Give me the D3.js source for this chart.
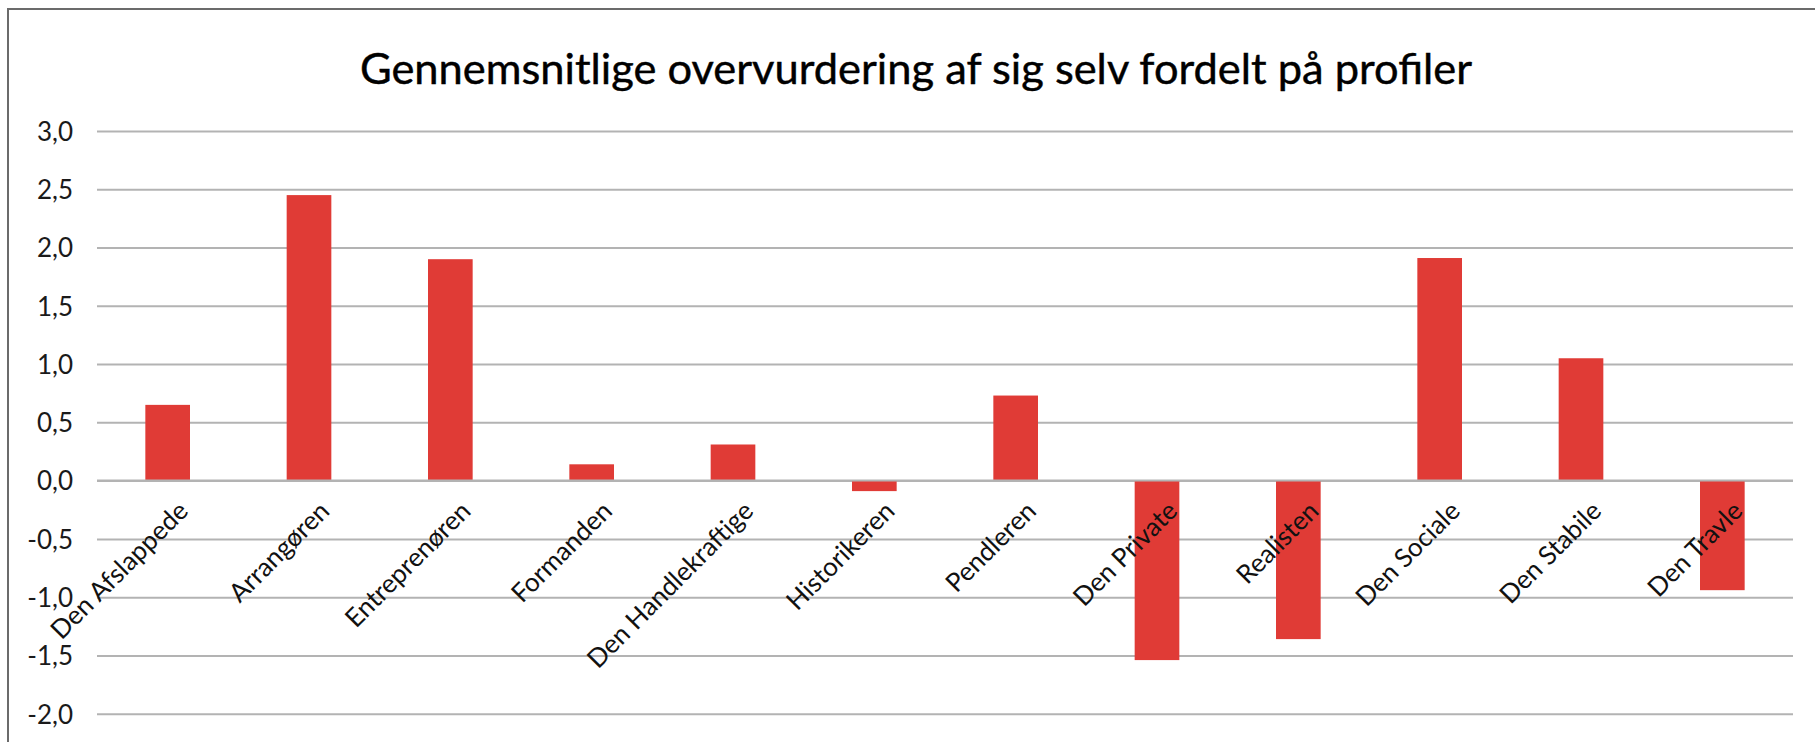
<!DOCTYPE html>
<html>
<head>
<meta charset="utf-8">
<script src="https://cdn.jsdelivr.net/npm/d3@7"></script>
<style>
  html, body { margin: 0; padding: 0; background: #fff; }
  svg { display: block; }
</style>
</head>
<body>
<svg id="chart" width="1815" height="742"></svg>
<script>
const title = "Gennemsnitlige overvurdering af sig selv fordelt på profiler";
const categories = ["Den Afslappede", "Arrangøren", "Entreprenøren", "Formanden", "Den Handlekraftige", "Historikeren", "Pendleren", "Den Private", "Realisten", "Den Sociale", "Den Stabile", "Den Travle"];
const values = [0.65, 2.45, 1.90, 0.14, 0.31, -0.09, 0.73, -1.54, -1.36, 1.91, 1.05, -0.94];
const yTicks = [3.0, 2.5, 2.0, 1.5, 1.0, 0.5, 0.0, -0.5, -1.0, -1.5, -2.0];

const svg = d3.select("#chart");
const W = 1815, H = 742;
const plot = { left: 97, right: 1793, top: 131, bottom: 713.7 };

// outer frame
svg.append("rect")
  .attr("x", 8).attr("y", 9).attr("width", W + 20).attr("height", H + 20)
  .attr("fill", "#fff").attr("stroke", "#6b6b6b").attr("stroke-width", 2);

const x = d3.scaleBand().domain(categories).range([plot.left, plot.right]).paddingInner(0.684).paddingOuter(0.342);
const y = d3.scaleLinear().domain([-2, 3]).range([plot.bottom, plot.top]);

const locale = d3.formatLocale({ decimal: ",", thousands: ".", grouping: [3], currency: ["", " kr"], minus: "-" });
const fmt = locale.format(".1f");

// gridlines
const yAxis = d3.axisLeft(y).tickValues(yTicks).tickSize(-(plot.right - plot.left)).tickFormat(fmt).tickPadding(24);
const gy = svg.append("g").attr("transform", `translate(${plot.left},0)`).call(yAxis);
gy.select(".domain").remove();
gy.selectAll(".tick line").attr("stroke", "#b3b3b3").attr("stroke-width", 2);
gy.selectAll(".tick text")
  .attr("fill", "#1a1a1a")
  .style("font-family", "Lato, 'Noto Sans', sans-serif")
  .style("font-size", "26px")
  .attr("dy", "0.36em");

// bars
svg.append("g").selectAll("rect").data(values).join("rect")
  .attr("x", (d, i) => x(categories[i]))
  .attr("width", x.bandwidth())
  .attr("y", d => d >= 0 ? y(d) : y(0))
  .attr("height", d => Math.abs(y(d) - y(0)))
  .attr("fill", "#e03b36");

// zero line on top
svg.append("line")
  .attr("x1", plot.left).attr("x2", plot.right)
  .attr("y1", y(0)).attr("y2", y(0))
  .attr("stroke", "#b3b3b3").attr("stroke-width", 2);

// x labels rotated
const xAxis = d3.axisBottom(x).tickSize(0).tickPadding(0);
const gx = svg.append("g").attr("transform", `translate(0,${y(0)})`).call(xAxis);
gx.select(".domain").remove();
gx.selectAll(".tick text")
  .attr("text-anchor", "end")
  .attr("fill", "#111")
  .style("font-family", "Lato, 'Noto Sans', sans-serif")
  .style("font-size", "26px")
  .attr("dy", null)
  .attr("y", null)
  .attr("transform", "translate(22,32) rotate(-45)");

// title
const t = svg.append("text")
  .attr("x", 916).attr("y", 84)
  .attr("text-anchor", "middle")
  .attr("fill", "#000")
  .attr("stroke", "#000")
  .attr("stroke-width", 0.45)
  .style("font-family", "Lato, 'Noto Sans', sans-serif")
  .style("font-weight", "400")
  .style("font-size", "46px")
  .text(title);
const targetW = 1112;
const w = t.node().getComputedTextLength();
t.style("font-size", (46 * targetW / w).toFixed(2) + "px");
</script>
</body>
</html>
